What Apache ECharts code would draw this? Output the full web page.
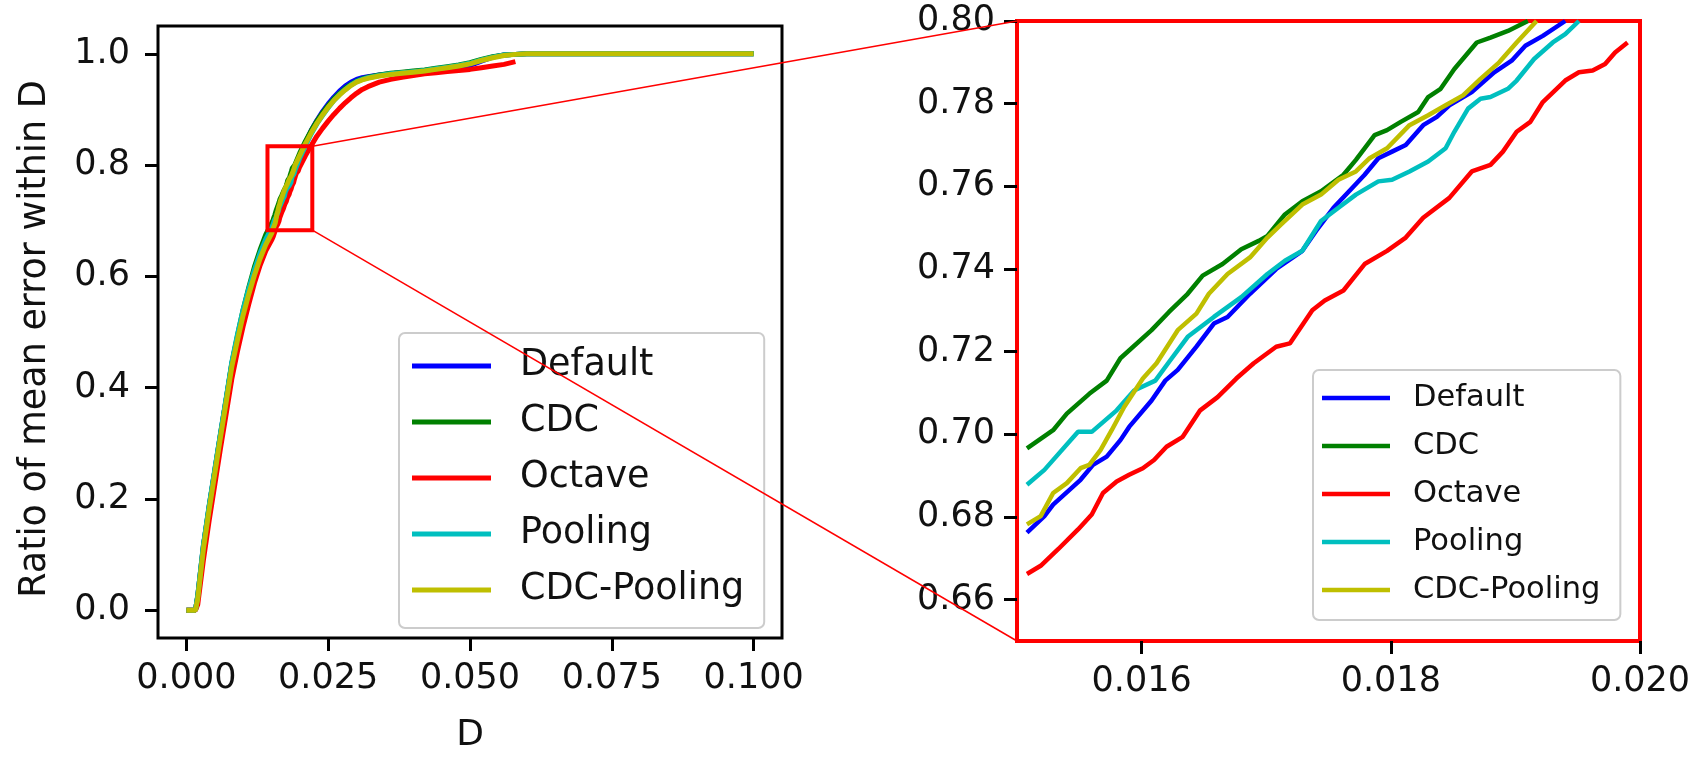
<!DOCTYPE html>
<html><head><meta charset="utf-8">
<script src="https://cdn.jsdelivr.net/npm/echarts@6/dist/echarts.min.js"></script>
<style>html,body{margin:0;padding:0;background:#fff}#c{width:1697px;height:759px}</style>
</head><body><div id="c"></div>
<script>
const FONT = 'DejaVu Sans';
const SERIES_NAMES = ['Default', 'CDC', 'Octave', 'Pooling', 'CDC-Pooling'];
const SERIES_COLORS = ['#0000ff', '#008000', '#ff0000', '#00bfbf', '#bfbf00'];

// Low part of the curves (D < 0.015)
const D_LOW = [0, 0.0016, 0.002, 0.003, 0.004, 0.005, 0.006, 0.007, 0.008, 0.009, 0.010, 0.011, 0.012, 0.013, 0.014];
const LOW_DEFAULT = [0, 0, 0.025, 0.115, 0.185, 0.25, 0.315, 0.378, 0.442, 0.49, 0.535, 0.573, 0.607, 0.635, 0.658];
const LOW_CDC = [0, 0, 0.025, 0.115, 0.185, 0.25, 0.315, 0.378, 0.443, 0.493, 0.54, 0.58, 0.617, 0.648, 0.675];
const LOW_OCTAVE = [0, 0, 0.010, 0.09, 0.16, 0.225, 0.29, 0.352, 0.415, 0.465, 0.51, 0.55, 0.588, 0.62, 0.646];
const LOW_POOLING = [0, 0, 0.025, 0.117, 0.187, 0.252, 0.317, 0.38, 0.445, 0.495, 0.54, 0.578, 0.612, 0.642, 0.667];
const LOW_CDCPOOL = [0, 0, 0.02, 0.11, 0.18, 0.245, 0.31, 0.373, 0.437, 0.485, 0.53, 0.568, 0.602, 0.632, 0.657];

// Detailed part (zoomed region), [D, ratio]
const MID_DEFAULT = [[0.01508,0.6762],[0.01522,0.6802],[0.01529,0.6830],[0.01551,0.6890],[0.01561,0.6926],[0.01572,0.6946],[0.01583,0.6986],[0.01590,0.7018],[0.01608,0.7082],[0.01619,0.7130],[0.01629,0.7156],[0.01644,0.7212],[0.01658,0.7268],[0.01669,0.7284],[0.01687,0.7340],[0.01708,0.7400],[0.01729,0.7444],[0.01740,0.7492],[0.01754,0.7548],[0.01769,0.7596],[0.01779,0.7628],[0.01790,0.7668],[0.01801,0.7684],[0.01812,0.7700],[0.01826,0.7748],[0.01837,0.7768],[0.01847,0.7796],[0.01865,0.7828],[0.01883,0.7876],[0.01897,0.7904],[0.01908,0.7940],[0.01922,0.7964],[0.01940,0.8000]];
const MID_CDC = [[0.01508,0.6966],[0.01529,0.7010],[0.01540,0.7050],[0.01558,0.7098],[0.01572,0.7130],[0.01583,0.7184],[0.01608,0.7252],[0.01622,0.7296],[0.01637,0.7340],[0.01649,0.7384],[0.01665,0.7412],[0.01680,0.7448],[0.01694,0.7468],[0.01701,0.7480],[0.01715,0.7532],[0.01729,0.7564],[0.01744,0.7588],[0.01762,0.7628],[0.01772,0.7664],[0.01787,0.7724],[0.01797,0.7736],[0.01808,0.7756],[0.01822,0.7780],[0.01830,0.7816],[0.01840,0.7836],[0.01851,0.7884],[0.01869,0.7948],[0.01880,0.7960],[0.01894,0.7976],[0.01910,0.8000]];
const MID_OCTAVE = [[0.01508,0.6662],[0.01519,0.6682],[0.01533,0.6722],[0.01549,0.6770],[0.01560,0.6806],[0.01569,0.6858],[0.01580,0.6886],[0.01590,0.6902],[0.01601,0.6918],[0.01610,0.6938],[0.01620,0.6970],[0.01633,0.6994],[0.01647,0.7058],[0.01661,0.7090],[0.01676,0.7135],[0.01690,0.7172],[0.01708,0.7212],[0.01719,0.7220],[0.01737,0.7300],[0.01747,0.7324],[0.01762,0.7348],[0.01779,0.7412],[0.01797,0.7444],[0.01812,0.7476],[0.01826,0.7524],[0.01847,0.7572],[0.01865,0.7636],[0.01880,0.7652],[0.01890,0.7684],[0.01901,0.7732],[0.01912,0.7756],[0.01922,0.7804],[0.01940,0.7856],[0.01951,0.7876],[0.01962,0.7880],[0.01972,0.7896],[0.01980,0.7924],[0.01990,0.7948]];
const MID_POOLING = [[0.01508,0.6878],[0.01522,0.6914],[0.01549,0.7006],[0.01560,0.7006],[0.01580,0.7058],[0.01594,0.7106],[0.01611,0.7130],[0.01622,0.7175],[0.01637,0.7236],[0.01658,0.7284],[0.01680,0.7332],[0.01701,0.7388],[0.01715,0.7420],[0.01729,0.7444],[0.01744,0.7516],[0.01758,0.7548],[0.01772,0.7580],[0.01790,0.7612],[0.01801,0.7616],[0.01815,0.7636],[0.01830,0.7660],[0.01844,0.7692],[0.01851,0.7732],[0.01862,0.7788],[0.01872,0.7812],[0.01880,0.7816],[0.01894,0.7836],[0.01901,0.7856],[0.01915,0.7908],[0.01930,0.7948],[0.01940,0.7968],[0.01951,0.8000]];
const MID_CDCPOOL = [[0.01508,0.6782],[0.01519,0.6802],[0.01529,0.6858],[0.01540,0.6882],[0.01551,0.6918],[0.01558,0.6926],[0.01567,0.6962],[0.01576,0.7010],[0.01586,0.7066],[0.01601,0.7135],[0.01612,0.7172],[0.01629,0.7252],[0.01644,0.7292],[0.01654,0.7340],[0.01669,0.7388],[0.01687,0.7428],[0.01701,0.7476],[0.01712,0.7508],[0.01729,0.7556],[0.01744,0.7580],[0.01758,0.7616],[0.01772,0.7636],[0.01783,0.7668],[0.01797,0.7692],[0.01815,0.7748],[0.01830,0.7772],[0.01844,0.7796],[0.01858,0.7820],[0.01872,0.7860],[0.01887,0.7900],[0.01901,0.7948],[0.01917,0.8000]];

// High part of the curves (D >= 0.020)
const D_HIGH = [0.020, 0.021, 0.022, 0.023, 0.024, 0.025, 0.026, 0.027, 0.028, 0.029, 0.030, 0.031, 0.032, 0.034, 0.036, 0.038, 0.040, 0.042, 0.044, 0.046, 0.048, 0.050, 0.052, 0.054, 0.056, 0.058, 0.060, 0.065, 0.070, 0.080, 0.090, 0.100];
const HIGH_DEFAULT = [0.815, 0.840, 0.862, 0.880, 0.896, 0.910, 0.922, 0.933, 0.942, 0.949, 0.954, 0.957, 0.959, 0.962, 0.964, 0.966, 0.968, 0.970, 0.972, 0.973, 0.974, 0.979, 0.987, 0.994, 0.998, 0.999, 1.0, 1.0, 1.0, 1.0, 1.0, 1.0];
const HIGH_CDC = [0.822, 0.843, 0.862, 0.879, 0.894, 0.907, 0.919, 0.929, 0.938, 0.945, 0.951, 0.955, 0.958, 0.962, 0.965, 0.967, 0.969, 0.971, 0.974, 0.977, 0.980, 0.984, 0.990, 0.995, 0.998, 0.999, 1.0, 1.0, 1.0, 1.0, 1.0, 1.0];
const HIGH_OCTAVE = [0.797, 0.817, 0.835, 0.852, 0.866, 0.879, 0.891, 0.902, 0.912, 0.921, 0.929, 0.936, 0.941, 0.949, 0.954, 0.958, 0.961, 0.964, 0.966, 0.968, 0.970, 0.972, 0.975, 0.978, 0.981, 0.986];
const HIGH_POOLING = [0.813, 0.835, 0.856, 0.874, 0.889, 0.903, 0.916, 0.927, 0.936, 0.944, 0.950, 0.954, 0.957, 0.961, 0.964, 0.966, 0.968, 0.970, 0.973, 0.976, 0.979, 0.983, 0.989, 0.994, 0.998, 0.999, 1.0, 1.0, 1.0, 1.0, 1.0, 1.0];
const HIGH_CDCPOOL = [0.818, 0.839, 0.858, 0.875, 0.890, 0.904, 0.916, 0.926, 0.935, 0.943, 0.949, 0.953, 0.956, 0.960, 0.963, 0.965, 0.967, 0.969, 0.972, 0.975, 0.978, 0.982, 0.988, 0.993, 0.997, 0.999, 1.0, 1.0, 1.0, 1.0, 1.0, 1.0];

// Axes
const MAIN_X_TICKS = [0, 0.025, 0.05, 0.075, 0.1];
const MAIN_Y_TICKS = [0, 0.2, 0.4, 0.6, 0.8, 1.0];
const INSET_X_TICKS = [0.016, 0.018, 0.020];
const INSET_Y_TICKS = [0.66, 0.68, 0.70, 0.72, 0.74, 0.76, 0.78, 0.80];
const MAIN_X_RANGE = [-0.005, 0.105];
const MAIN_Y_RANGE = [-0.05, 1.05];
const INSET_X_RANGE = [0.015, 0.020];
const INSET_Y_RANGE = [0.65, 0.80];
// Zoom marker box drawn on the main plot (data coords)
const BOX_D = [0.0143, 0.0222];
const BOX_R = [0.683, 0.834];

const LOWS = [LOW_DEFAULT, LOW_CDC, LOW_OCTAVE, LOW_POOLING, LOW_CDCPOOL];
const MIDS = [MID_DEFAULT, MID_CDC, MID_OCTAVE, MID_POOLING, MID_CDCPOOL];
const HIGHS = [HIGH_DEFAULT, HIGH_CDC, HIGH_OCTAVE, HIGH_POOLING, HIGH_CDCPOOL];

function buildData(i) {
  const low = LOWS[i].map((v, k) => [D_LOW[k], v]);
  const high = HIGHS[i].map((v, k) => [D_HIGH[k], v]);
  return low.concat(MIDS[i], high);
}

const TXT = '#111';
function axis(gridIndex, range, ticks, digits, fs, margin, extra) {
  return Object.assign({
    type: 'value', gridIndex, min: range[0], max: range[1],
    axisLine: { show: false, onZero: false },
    axisTick: { show: true, customValues: ticks, length: 13, lineStyle: { width: 3, color: '#000' } },
    axisLabel: { customValues: ticks, formatter: v => Number(v).toFixed(digits), fontSize: fs, fontFamily: FONT, color: TXT, margin },
    splitLine: { show: false }
  }, extra || {});
}

const series = [];
SERIES_NAMES.forEach((name, i) => {
  const full = buildData(i);
  // the zoomed panel plots only the slice of D inside its own range
  const slice = full.filter(p => p[0] >= INSET_X_RANGE[0] && p[0] < INSET_X_RANGE[1]);
  [[0, full], [1, slice]].forEach(([g, data]) => {
    series.push({
      type: 'line', name, xAxisIndex: g, yAxisIndex: g, data,
      showSymbol: false, symbol: 'none', clip: true, animation: false,
      color: SERIES_COLORS[i],
      lineStyle: { color: SERIES_COLORS[i], width: g === 0 ? 5 : 4.5 }
    });
  });
});

const chart = echarts.init(document.getElementById('c'), null, { renderer: 'canvas' });
chart.setOption({
  backgroundColor: '#fff',
  animation: false,
  grid: [
    { left: 158, top: 26, width: 624, height: 618, show: true, borderColor: '#000', borderWidth: 3, backgroundColor: 'transparent' },
    { left: 1017, top: 21, width: 623, height: 620, show: true, borderColor: '#ff0000', borderWidth: 4, backgroundColor: 'transparent' }
  ],
  xAxis: [
    axis(0, MAIN_X_RANGE, MAIN_X_TICKS, 3, 35, 23, {
      name: 'D', nameLocation: 'middle', nameGap: 80,
      nameTextStyle: { fontSize: 36, fontFamily: FONT, color: TXT }
    }),
    axis(1, INSET_X_RANGE, INSET_X_TICKS, 3, 35, 23)
  ],
  yAxis: [
    axis(0, MAIN_Y_RANGE, MAIN_Y_TICKS, 1, 35, 28, {
      name: 'Ratio of mean error within D', nameLocation: 'middle', nameGap: 104,
      nameTextStyle: { fontSize: 36.5, fontFamily: FONT, color: TXT, padding: [0, 14, 0, 0] }
    }),
    axis(1, INSET_Y_RANGE, INSET_Y_TICKS, 2, 35, 22)
  ],
  legend: [
    {
      data: SERIES_NAMES, orient: 'vertical', left: 399, top: 333,
      padding: [13, 20, 18, 13], itemWidth: 79, itemHeight: 5, itemGap: 16, icon: 'rect',
      textStyle: { fontSize: 36.5, fontFamily: FONT, color: TXT, lineHeight: 40, padding: [0, 0, 0, 24] },
      backgroundColor: 'rgba(255,255,255,0.8)', borderColor: '#cccccc', borderWidth: 2, borderRadius: 6
    },
    {
      data: SERIES_NAMES, orient: 'vertical', left: 1313, top: 370,
      padding: [11, 20, 13, 9], itemWidth: 68, itemHeight: 4.5, itemGap: 14, icon: 'rect',
      textStyle: { fontSize: 30.5, fontFamily: FONT, color: TXT, lineHeight: 34, padding: [0, 0, 0, 18] },
      backgroundColor: 'rgba(255,255,255,0.8)', borderColor: '#cccccc', borderWidth: 2, borderRadius: 6
    }
  ],
  series
});

// Zoom marker and connector lines, positioned through the axes' own scales
const tl = chart.convertToPixel({ gridIndex: 0 }, [BOX_D[0], BOX_R[1]]);
const br = chart.convertToPixel({ gridIndex: 0 }, [BOX_D[1], BOX_R[0]]);
const tr = chart.convertToPixel({ gridIndex: 0 }, [BOX_D[1], BOX_R[1]]);
const iTop = chart.convertToPixel({ gridIndex: 1 }, [INSET_X_RANGE[0], INSET_Y_RANGE[1]]);
const iBot = chart.convertToPixel({ gridIndex: 1 }, [INSET_X_RANGE[0], INSET_Y_RANGE[0]]);
chart.setOption({
  graphic: [
    { type: 'line', z: 100, shape: { x1: tr[0], y1: tr[1], x2: iTop[0], y2: iTop[1] }, style: { stroke: '#ff0000', lineWidth: 1.5 } },
    { type: 'line', z: 100, shape: { x1: br[0], y1: br[1], x2: iBot[0], y2: iBot[1] }, style: { stroke: '#ff0000', lineWidth: 1.5 } },
    { type: 'rect', z: 100, shape: { x: tl[0], y: tl[1], width: br[0] - tl[0], height: br[1] - tl[1] }, style: { fill: 'none', stroke: '#ff0000', lineWidth: 4 } }
  ]
});
</script></body></html>
